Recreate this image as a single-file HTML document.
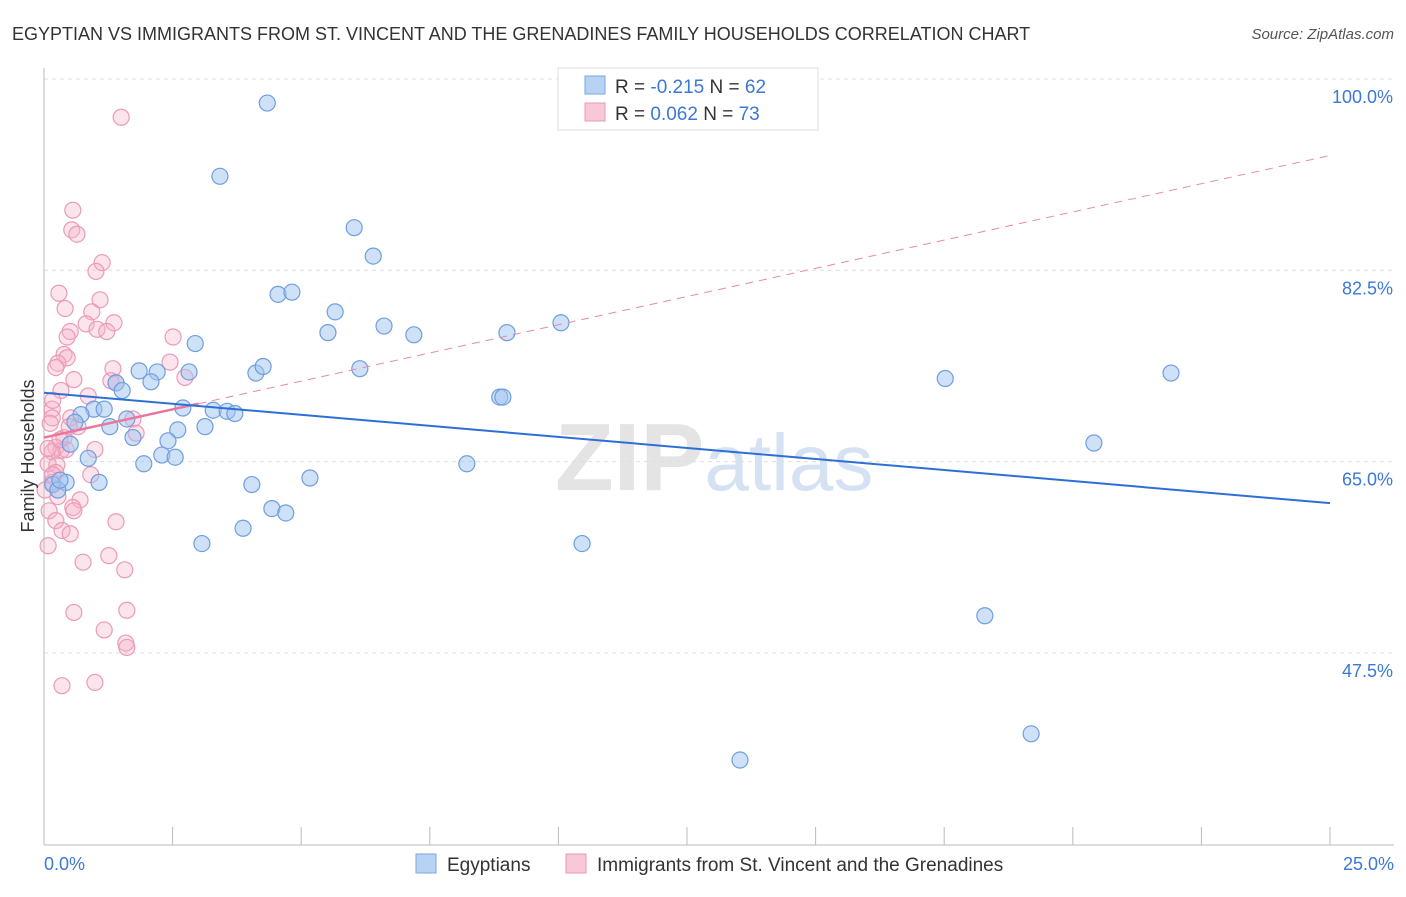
<!DOCTYPE html>
<html><head><meta charset="utf-8"><style>
body{margin:0;background:#fff;font-family:"Liberation Sans",sans-serif}
svg text{font-family:"Liberation Sans",sans-serif}
</style></head><body>
<svg id="chart" width="1406" height="892" xmlns="http://www.w3.org/2000/svg">
<text x="12" y="40" font-size="18" fill="#333">EGYPTIAN VS IMMIGRANTS FROM ST. VINCENT AND THE GRENADINES FAMILY HOUSEHOLDS CORRELATION CHART</text>
<text x="1394" y="39" font-size="15" fill="#555" text-anchor="end" font-style="italic">Source: ZipAtlas.com</text>
<text x="555" y="490" font-size="96" fill="#e4e4e4" font-family="Liberation Serif" font-weight="bold">ZIP<tspan fill="#d4e2f4" font-family="Liberation Sans" font-weight="normal" font-size="80">atlas</tspan></text>
<g id="grid"></g>
<g id="axes"></g>
<g id="marks"></g>
<text transform="translate(34,456) rotate(-90)" font-size="18" fill="#333" text-anchor="middle">Family Households</text>
<g>
<rect x="558" y="68" width="260" height="62" fill="#fff" stroke="#ddd"/>
<rect x="585" y="76" width="20" height="18" fill="#b8d2f4" stroke="#7aa6e0"/>
<text x="615" y="93" font-size="19" fill="#333">R = <tspan fill="#3b78d8">-0.215</tspan>   N = <tspan fill="#3b78d8">62</tspan></text>
<rect x="585" y="103" width="20" height="18" fill="#f8c8d6" stroke="#e898b4"/>
<text x="615" y="120" font-size="19" fill="#333">R =  <tspan fill="#3b78d8">0.062</tspan>   N = <tspan fill="#3b78d8">73</tspan></text>
</g>
<g>
<rect x="416" y="854" width="20" height="19" fill="#b8d2f4" stroke="#7aa6e0"/>
<text x="447" y="871" font-size="19" fill="#333">Egyptians</text>
<rect x="566" y="854" width="20" height="19" fill="#f8c8d6" stroke="#e898b4"/>
<text x="597" y="871" font-size="19" fill="#333">Immigrants from St. Vincent and the Grenadines</text>
</g>
</svg>
<script>
const blueX=[4.34,3.42,6.03,6.40,4.55,4.82,5.66,5.52,6.61,7.19,9.00,10.05,2.94,1.85,2.20,2.08,1.40,1.52,2.82,4.12,4.26,6.14,8.86,8.92,2.70,3.29,3.56,3.71,0.97,1.17,0.72,0.60,1.61,2.60,3.13,1.28,1.73,2.41,0.51,2.29,2.55,1.94,0.86,8.22,5.17,4.04,1.07,0.43,0.17,0.27,4.43,4.70,3.87,3.07,10.46,17.52,21.91,20.41,18.29,19.19,13.53,0.31];
const blueY=[97.8,91.1,86.4,83.8,80.3,80.5,78.7,76.8,77.4,76.6,76.8,77.7,75.8,73.3,73.2,72.3,72.2,71.5,73.2,73.1,73.7,73.5,70.9,70.9,69.9,69.7,69.6,69.4,69.8,69.8,69.3,68.6,68.9,67.9,68.2,68.2,67.2,66.9,66.6,65.6,65.4,64.8,65.3,64.8,63.5,62.9,63.1,63.1,62.9,62.4,60.7,60.3,58.9,57.5,57.5,72.6,73.1,66.7,50.9,40.1,37.7,63.3];
const pinkX=[1.50,0.56,0.54,0.64,1.13,1.01,0.29,1.09,0.41,0.93,1.36,0.82,0.51,1.03,1.22,0.45,0.39,0.45,0.27,0.23,1.34,2.51,2.45,2.74,1.30,1.40,0.58,0.33,0.86,0.16,0.16,0.52,1.73,0.12,0.66,1.79,0.39,0.23,0.33,0.99,0.16,0.08,0.25,0.91,0.23,0.16,0.70,0.56,0.58,0.10,0.23,1.40,0.35,0.51,0.08,1.26,0.76,1.57,0.58,1.61,1.17,1.59,1.61,0.35,0.99,0.17,0.27,0.02,0.08,0.43,0.31,0.49,0.17];
const pinkY=[96.5,88.0,86.2,85.8,83.2,82.4,80.4,79.8,79.0,78.7,77.7,77.6,76.9,77.1,76.9,76.4,74.8,74.5,74.0,73.6,73.5,76.4,74.1,72.7,72.4,72.2,72.5,71.5,71.0,69.8,69.0,69.0,68.9,68.5,68.2,67.6,67.2,66.3,66.0,66.1,65.9,64.8,64.7,63.8,64.0,63.1,61.5,60.8,60.5,60.5,59.6,59.5,58.7,58.4,57.3,56.4,55.8,55.1,51.2,51.4,49.6,48.4,48.0,44.5,44.8,63.8,61.8,62.4,66.2,66.1,67.0,68.2,70.6];
const yTicks=[100,82.5,65,47.5];
const yTickLabels=["100.0%","82.5%","65.0%","47.5%"];
const blueTrend=[71.3,61.2];
const pinkTrend=[67.2,93.0];
const pinkSolidEnd=3.0;
const X=v=>44+v/25*1286;
const Y=v=>79+(100-v)/17.5*191.3;
const NS="http://www.w3.org/2000/svg";
function mk(t,a,p){const e=document.createElementNS(NS,t);for(const k in a)e.setAttribute(k,a[k]);p.appendChild(e);return e;}
const grid=document.getElementById('grid'),axes=document.getElementById('axes'),marks=document.getElementById('marks');
yTicks.forEach((t,i)=>{
 const l=mk('line',{x1:44,x2:1394,y1:Y(t),y2:Y(t),stroke:'#ddd','stroke-dasharray':'4,4'},grid);
 
 
 const tx=mk('text',{x:1393,y:Y(t)+24,'font-size':18,fill:'#3b78d8','text-anchor':'end'},axes);
 tx.textContent=yTickLabels[i];
 
 
});
mk('line',{x1:44,x2:44,y1:68,y2:845,stroke:'#bbb'},axes);
mk('line',{x1:44,x2:1394,y1:845,y2:845,stroke:'#bbb'},axes);
for(let i=0;i<=10;i++){mk('line',{x1:X(i*2.5),x2:X(i*2.5),y1:827,y2:845,stroke:'#bbb'},axes);}
const xl0=mk('text',{x:44,y:870,'font-size':18,fill:'#3b78d8'},axes);xl0.textContent='0.0%';


const xl1=mk('text',{x:1394,y:870,'font-size':18,fill:'#3b78d8','text-anchor':'end'},axes);xl1.textContent='25.0%';


pinkX.forEach((v,i)=>{
 const c=mk('circle',{cx:X(v),cy:Y(pinkY[i]),r:8,fill:'rgba(246,178,200,0.35)',stroke:'#ec9ab6','stroke-width':1.2},marks);
 
 
});
blueX.forEach((v,i)=>{
 const c=mk('circle',{cx:X(v),cy:Y(blueY[i]),r:8,fill:'rgba(160,196,240,0.5)',stroke:'#6e9ee0','stroke-width':1.2},marks);
 
 
});
const pAt=x=>pinkTrend[0]+(pinkTrend[1]-pinkTrend[0])*x/25;
const pd=mk('line',{x1:X(pinkSolidEnd),y1:Y(pAt(pinkSolidEnd)),x2:X(25),y2:Y(pinkTrend[1]),stroke:'#e88aaa','stroke-width':1,'stroke-dasharray':'8,6'},marks);


const ps=mk('line',{x1:X(0),y1:Y(pinkTrend[0]),x2:X(pinkSolidEnd),y2:Y(pAt(pinkSolidEnd)),stroke:'#e8769e','stroke-width':2.5},marks);


const bl=mk('line',{x1:X(0),y1:Y(blueTrend[0]),x2:X(25),y2:Y(blueTrend[1]),stroke:'#2e6fd6','stroke-width':2},marks);


</script>
</body></html>
